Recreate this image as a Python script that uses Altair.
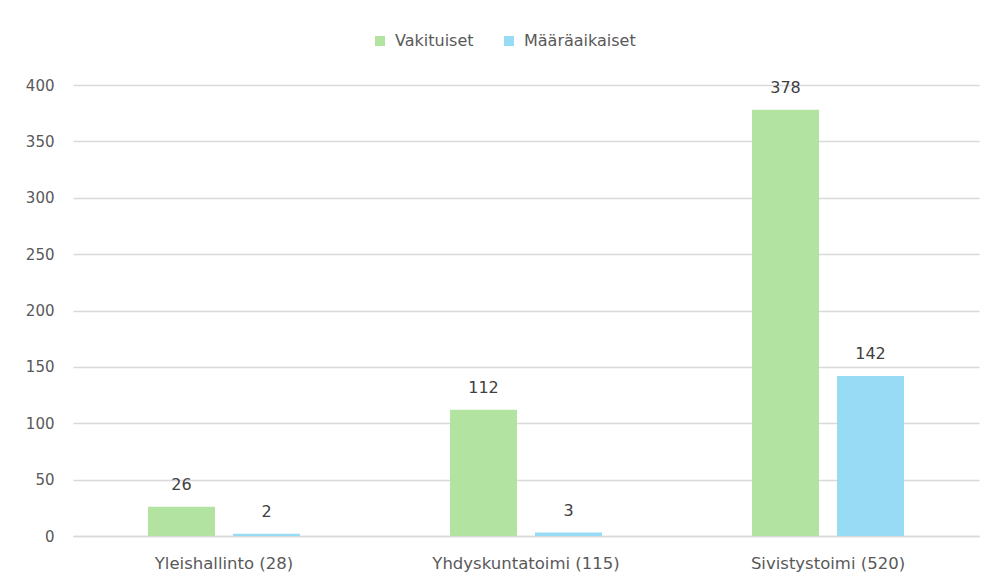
import altair as alt
import pandas as pd

categories = ["Yleishallinto (28)", "Yhdyskuntatoimi (115)", "Sivistystoimi (520)"]
series = ["Vakituiset", "Määräaikaiset"]
vakituiset = [26, 112, 378]
maaraaikaiset = [2, 3, 142]
colors = ["#B3E3A0", "#97DCF4"]

rows = []
for c, v, m in zip(categories, vakituiset, maaraaikaiset):
    rows.append({"cat": c, "series": series[0], "value": v})
    rows.append({"cat": c, "series": series[1], "value": m})
df = pd.DataFrame(rows)

FONT = "DejaVu Sans"
TXT = "#595959"

x = alt.X("cat:N", sort=categories, title=None,
          scale=alt.Scale(paddingInner=0, paddingOuter=0),
          axis=alt.Axis(labelAngle=0, labelFontSize=16.5, labelColor=TXT, labelFont=FONT,
                        labelPadding=19, labelLimit=400, ticks=False, domain=True,
                        domainColor="#d9d9d9", domainWidth=1.5, grid=False))
xo = alt.XOffset("series:N", sort=series,
                 scale=alt.Scale(paddingInner=0.212, paddingOuter=0.882))
y = alt.Y("value:Q", title=None,
          scale=alt.Scale(domain=[0, 400], nice=False),
          axis=alt.Axis(values=list(range(0, 401, 50)), labelFontSize=15, labelColor=TXT,
                        labelFont=FONT, labelPadding=19, ticks=False, domain=False,
                        grid=True, gridColor="#d9d9d9", gridWidth=1.5))
color = alt.Color("series:N", sort=series,
                  scale=alt.Scale(domain=series, range=colors),
                  legend=alt.Legend(title=None, orient="none", direction="horizontal",
                                    legendX=299, legendY=-52, symbolType="square",
                                    symbolSize=100, symbolStrokeWidth=0,
                                    labelFontSize=16, labelColor=TXT, labelFont=FONT,
                                    labelOffset=7, columnPadding=27, padding=0,
                                    labelLimit=300))

bars = alt.Chart(df).mark_bar().encode(x=x, xOffset=xo, y=y, color=color)
labels = alt.Chart(df).mark_text(baseline="middle", dy=-22, fontSize=16, font=FONT,
                                 color="#404040").encode(
    x=alt.X("cat:N", sort=categories), xOffset=xo, y="value:Q", text="value:Q")

chart = (bars + labels).properties(
    width=906, height=451,
    padding={"left": 65, "top": 77, "right": 8, "bottom": 40},
    autosize="none",
    background="white",
).configure_view(strokeWidth=0, stroke="transparent")

chart.save("out.html", embed_options={"renderer": "svg", "actions": False})
